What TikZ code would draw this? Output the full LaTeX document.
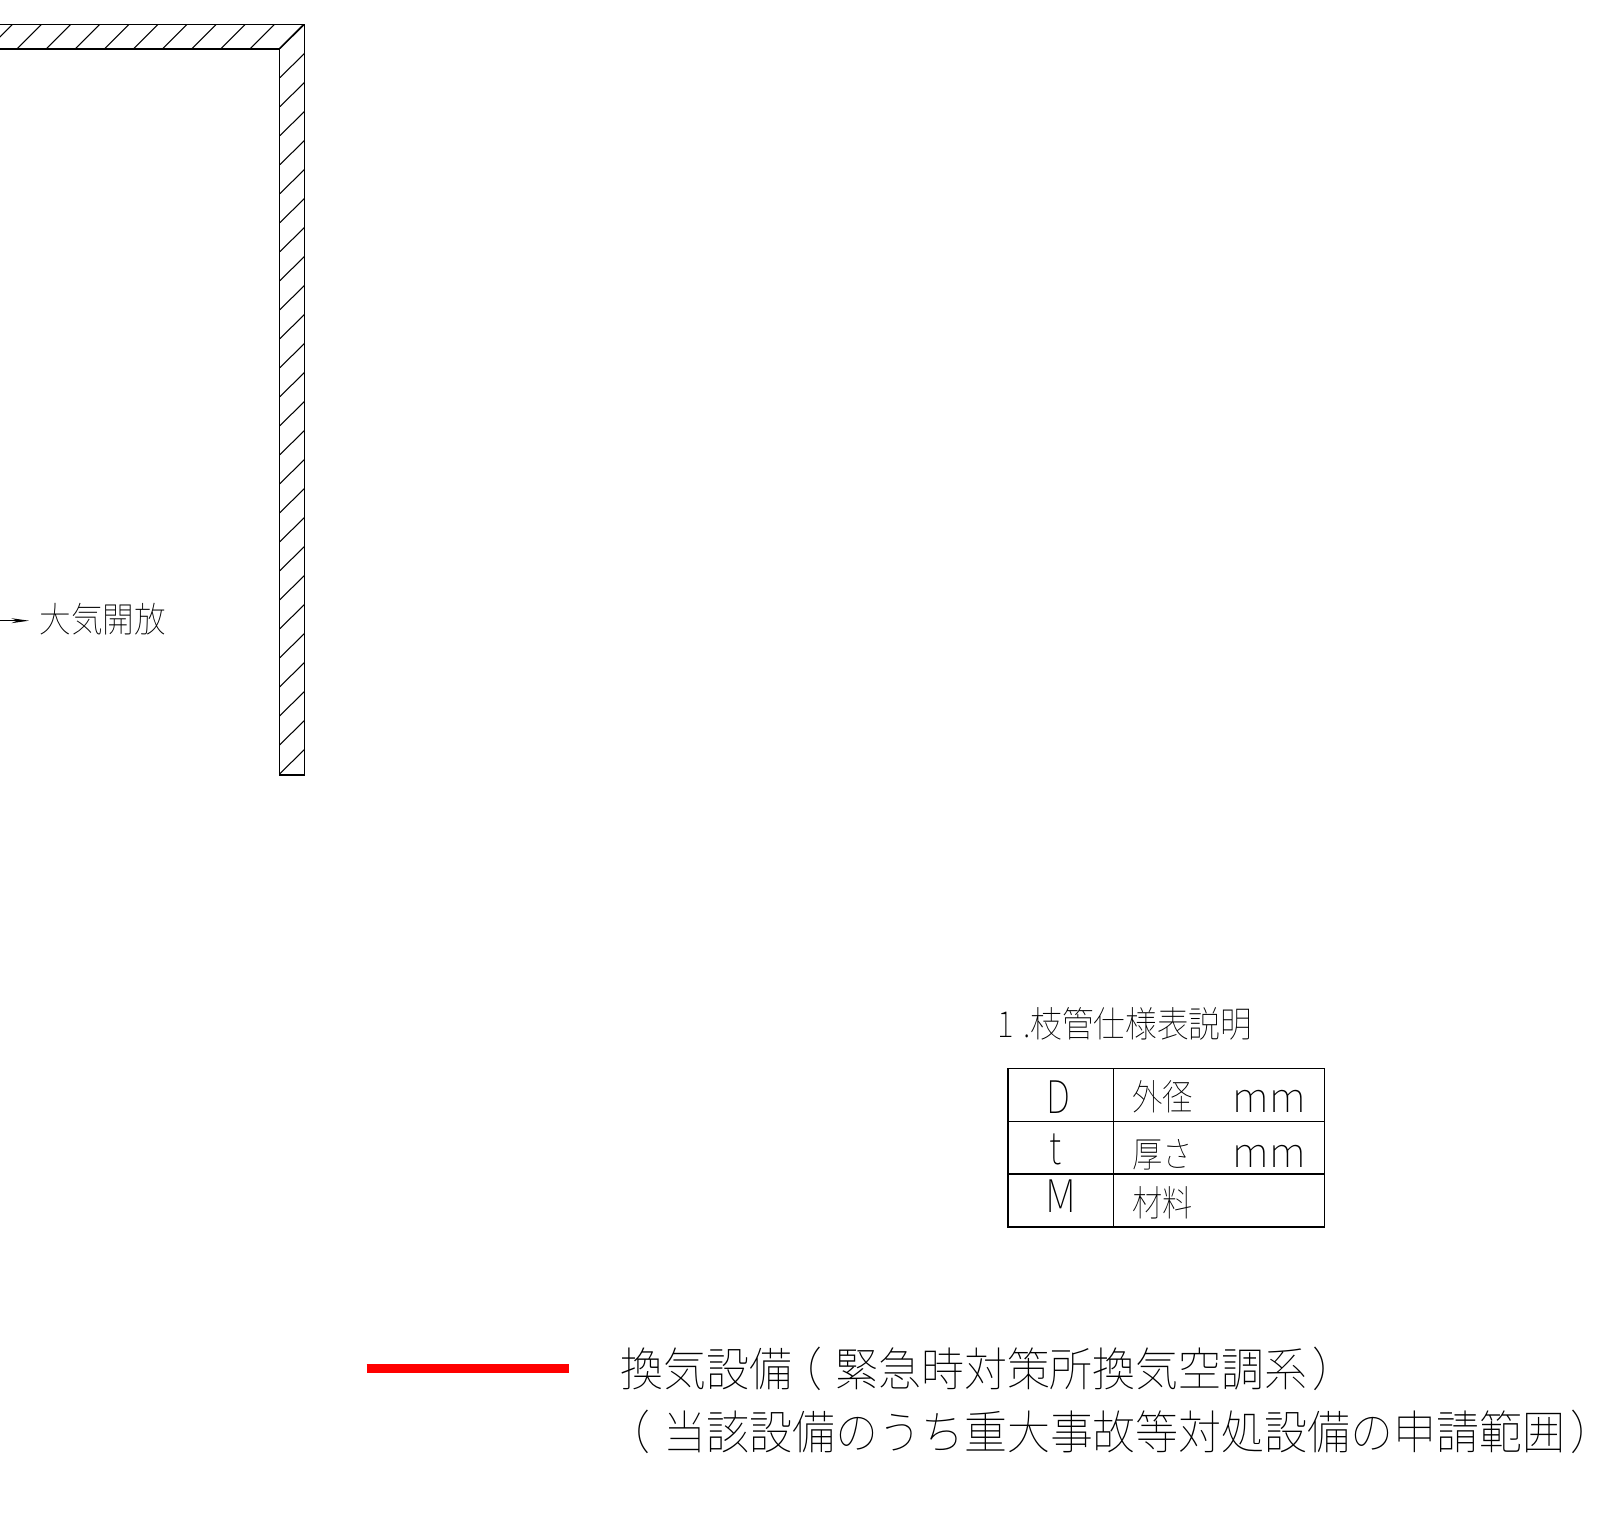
\documentclass[tikz,border=0pt]{standalone}
\usepackage{fontspec}
\newfontfamily\cadfont{Noto Sans CJK JP Thin}
\newcommand{\openparen}{\kern-4pt（\kern4pt}
\newcommand{\closeparen}{\kern1.5pt）}
\usetikzlibrary{calc, arrows.meta}
\tikzset{
    cadlabel/.style 2 args={font=\cadfont\fontsize{#1}{#1}\selectfont,xscale=#2,transform shape,anchor=base west,inner sep=0pt},
    wall/.style={line width=0.4pt,black},
    hatch/.style={line width=0.3pt,black},
    tablecell/.style={draw,line width=0.4pt,inner sep=0pt,outer sep=0pt,anchor=north west,minimum height=0.527cm},
}
\begin{document}
\begin{tikzpicture}[x=0.01cm,y=-0.01cm]
            \useasboundingbox (0,0) rectangle (1621,1528);
            \fill[white] (0,0) rectangle (1621,1528);
            % wall
            \draw[wall] (-20,24.5)--(304.5,24.5)--(304.5,775)--(279.5,775)--(279.5,49)--(-20,49);
            \foreach \k in {-1,...,9}
                \draw[hatch] ({17+29.1*\k},49)--({41.5+29.1*\k},24.5);
            \foreach \k in {0,...,25}
                \draw[hatch] (279.5,{49+29*\k})--(304.5,{24.5+29*\k});
            % vent
            \node[cadlabel={10pt}{0.9}] (vent) at (39,633) {大気開放};
            \coordinate (ventstart) at (-10,620.7);
            \coordinate (venttip) at (29,620.7);
            \draw[line width=0.3pt,-{Stealth[length=5pt,width=1.4pt]}] (ventstart)--(venttip);
            % table
            \node[cadlabel={10.24pt}{0.88}] (title) at (997,1037) {1\hspace{2.9pt}.枝管仕様表説明};
            \node[tablecell,minimum width=1.057cm] (dkey) at (1008,1068.7) {};
            \node[tablecell,minimum width=2.105cm] (dval) at (dkey.north east) {};
            \node[tablecell,minimum width=1.057cm] (tkey) at (dkey.south west) {};
            \node[tablecell,minimum width=2.105cm] (tval) at (tkey.north east) {};
            \node[tablecell,minimum width=1.057cm] (mkey) at (tkey.south west) {};
            \node[tablecell,minimum width=2.105cm] (mval) at (mkey.north east) {};
            \node[cadlabel={12.8pt}{0.8}] (dname) at (1046,1113.7) {D};
            \node[cadlabel={12.8pt}{0.8}] (tname) at (1049,1164) {t};
            \node[cadlabel={12.8pt}{0.89}] (mname) at (1045,1212.7) {M};
            \node[cadlabel={10.24pt}{0.84}] (dtext) at (1132,1110) {外径};
            \node[cadlabel={10.24pt}{0.84}] (ttext) at (1132,1167) {厚さ};
            \node[cadlabel={10.24pt}{0.84}] (mtext) at (1132,1216) {材料};
            \node[cadlabel={11.7pt}{1}] (dunit) at (1232,1112.7) {mm};
            \node[cadlabel={11.7pt}{1}] (tunit) at (1232,1167.7) {mm};
            % legend
            \coordinate (legendstart) at (366.5,1368.5);
            \coordinate (legendend) at (569,1368.5);
            \draw[red,line width=2.4pt] (legendstart)--(legendend);
            \node[cadlabel={13.2pt}{0.925}] (lineone) at (620,1386.7) {換気設備\openparen 緊急時対策所換気空調系\closeparen};
            \node[cadlabel={13.2pt}{0.925}] (linetwo) at (620,1449.4) {\openparen 当該設備のうち重大事故等対処設備の申請範囲\closeparen};
        \end{tikzpicture}
\end{document}
